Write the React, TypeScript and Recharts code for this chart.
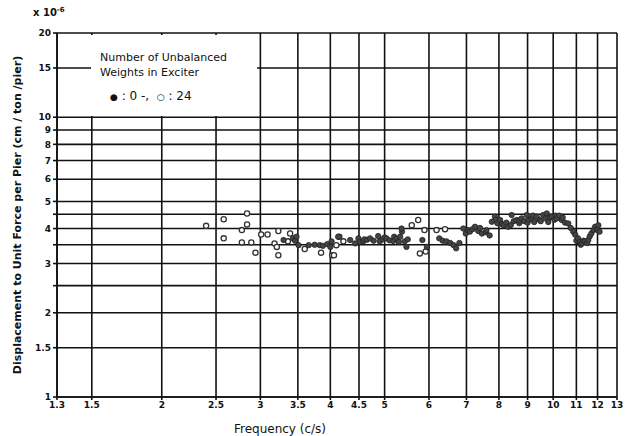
import {
  ScatterChart,
  Scatter,
  XAxis,
  YAxis,
  CartesianGrid
} from "recharts"

// frequency (c/s) / displacement (x10^-6 cm/ton/pier), 24 unbalanced weights (open)
const open24Freq = [2.40, 2.58, 2.58, 2.84, 2.84, 2.78, 2.78, 2.89, 2.94, 3.01, 3.09, 3.23, 3.18, 3.21, 3.23, 3.36, 3.39, 3.60, 3.85, 4.03, 4.06, 4.10, 4.15, 4.22, 5.59, 5.74, 5.78, 5.92, 5.89, 6.19, 6.41]
const open24Disp = [4.09, 4.32, 3.69, 4.53, 4.14, 3.95, 3.57, 3.57, 3.28, 3.81, 3.81, 3.92, 3.54, 3.44, 3.21, 3.60, 3.84, 3.38, 3.28, 3.21, 3.21, 3.49, 3.74, 3.60, 4.11, 4.29, 3.26, 3.31, 3.95, 3.95, 3.98]

// 0 unbalanced weights (filled)
const filled0Freq = [3.30, 3.43, 3.46, 3.48, 3.51, 3.66, 3.75, 3.83, 3.88, 3.95, 4.00, 4.02, 4.13, 4.34, 4.43, 4.49, 4.52, 4.58, 4.60, 4.65, 4.71, 4.78, 4.87, 4.90, 4.96, 5.00, 5.04, 5.10, 5.18, 5.20, 5.25, 5.30, 5.33, 5.37, 5.36, 5.43, 5.47, 5.50, 5.84, 5.95, 6.26, 6.35, 6.45, 6.55, 6.64, 6.71, 6.80, 6.91, 6.98, 7.05, 7.10, 7.18, 7.25, 7.35, 7.40, 7.46, 7.58, 7.60, 7.70, 7.77, 7.87, 7.90, 7.95, 8.04, 8.10, 8.16, 8.25, 8.31, 8.40, 8.43, 8.50, 8.60, 8.70, 8.70, 8.78, 8.88, 8.97, 9.00, 9.05, 9.15, 9.20, 9.25, 9.34, 9.45, 9.50, 9.60, 9.68, 9.74, 9.80, 9.85, 9.94, 10.05, 10.10, 10.15, 10.25, 10.36, 10.40, 10.50, 10.64, 10.75, 10.86, 10.95, 11.00, 11.08, 11.15, 11.20, 11.25, 11.32, 11.40, 11.50, 11.55, 11.62, 11.70, 11.80, 11.88, 11.95, 12.00, 12.04, 12.10]
const filled0Disp = [3.64, 3.69, 3.62, 3.74, 3.49, 3.49, 3.50, 3.49, 3.47, 3.52, 3.44, 3.60, 3.74, 3.64, 3.54, 3.69, 3.58, 3.60, 3.66, 3.65, 3.69, 3.62, 3.76, 3.60, 3.66, 3.72, 3.69, 3.63, 3.61, 3.74, 3.68, 3.58, 3.74, 3.90, 4.00, 3.60, 3.44, 3.66, 3.64, 3.44, 3.69, 3.62, 3.60, 3.55, 3.49, 3.40, 3.55, 4.00, 3.84, 3.95, 3.90, 3.98, 4.06, 3.92, 4.02, 3.84, 3.88, 3.95, 3.78, 4.23, 4.41, 4.30, 4.18, 4.29, 4.15, 4.11, 4.20, 4.06, 4.12, 4.47, 4.25, 4.29, 4.18, 4.28, 4.35, 4.25, 4.47, 4.20, 4.30, 4.35, 4.45, 4.22, 4.41, 4.30, 4.25, 4.47, 4.35, 4.53, 4.22, 4.38, 4.41, 4.30, 4.45, 4.35, 4.45, 4.29, 4.38, 4.20, 4.17, 4.02, 3.90, 3.80, 3.62, 3.69, 3.58, 3.50, 3.54, 3.62, 3.60, 3.55, 3.64, 3.75, 3.84, 3.95, 4.06, 3.98, 3.95, 4.11, 3.90]

const xTicks = [1.3, 1.5, 2, 2.5, 3, 3.5, 4, 4.5, 5, 6, 7, 8, 9, 10, 11, 12, 13]
const yTicks = [1, 1.5, 2, 2.5, 3, 3.5, 4, 4.5, 5, 6, 7, 8, 9, 10, 15, 20]
const yLabelled = [1, 1.5, 2, 3, 4, 5, 6, 7, 8, 9, 10, 15, 20]

const open24 = open24Freq.map((f, i) => ({ f, d: open24Disp[i] }))
const filled0 = filled0Freq.map((f, i) => ({ f, d: filled0Disp[i] }))

const font = "'DejaVu Sans', sans-serif"
const tickStyle = { fontSize: 9, fill: "#111", fontFamily: font, fontWeight: 600 }

const OpenDot = (p: any) => (
  <circle cx={p.cx} cy={p.cy} r={2.6} fill="#fff" stroke="#333" strokeWidth={1.3} />
)
const FilledDot = (p: any) => (
  <circle cx={p.cx} cy={p.cy} r={2.7} fill="#444" stroke="#222" strokeWidth={0.8} />
)

export default function App() {
  return (
    <div style={{ position: "absolute", left: 0, top: 0, width: 625, height: 436, background: "#fff" }}>
      <ScatterChart width={625} height={436} margin={{ top: 33, right: 8, bottom: 0, left: 0 }}>
        <CartesianGrid stroke="#111" strokeWidth={1.6} />
        <XAxis
          type="number"
          dataKey="f"
          scale="log"
          domain={[1.3, 13]}
          ticks={xTicks}
          allowDataOverflow
          height={39}
          tickSize={3}
          tickMargin={2}
          tick={tickStyle}
          stroke="#111"
          strokeWidth={1.6}
          interval={0}
          label={{ value: "Frequency   (c/s)", position: "insideBottom", offset: 3, dx: -57, style: { fontFamily: font, fontSize: 12, fill: "#111" } }}
        />
        <YAxis
          type="number"
          dataKey="d"
          scale="log"
          domain={[1, 20]}
          ticks={yTicks}
          allowDataOverflow
          width={57}
          tickSize={4}
          tickMargin={2}
          tick={tickStyle}
          stroke="#111"
          strokeWidth={1.6}
          interval={0}
          tickFormatter={(v: number) => (yLabelled.includes(v) ? String(v) : "")}
          label={{ value: "Displacement to Unit Force per Pier (cm / ton /pier)", angle: -90, position: "insideLeft", offset: 17, style: { textAnchor: "middle", fontFamily: font, fontSize: 11, fontWeight: 600, fill: "#111" } }}
        />
        <Scatter name="24" data={open24} shape={OpenDot} isAnimationActive={false} />
        <Scatter name="0" data={filled0} shape={FilledDot} isAnimationActive={false} />
      </ScatterChart>
      <div style={{ position: "absolute", left: 33, top: 6, fontFamily: font, fontSize: 10, fontWeight: 600, color: "#111" }}>
        x 10<sup style={{ fontSize: 7 }}>-6</sup>
      </div>
      <div style={{ position: "absolute", left: 91, top: 35, width: 166, height: 81, background: "#fff", fontFamily: font, fontSize: 11, color: "#111", lineHeight: "15px" }}>
        <div style={{ padding: "15px 0 0 9px" }}>
          <div>Number of Unbalanced</div>
          <div>Weights in Exciter</div>
          <div style={{ marginTop: 9, paddingLeft: 10, fontSize: 12 }}>
            <span style={{ fontSize: 9 }}>●</span> : 0 -,&nbsp;&nbsp;<span style={{ fontSize: 9 }}>○</span> : 24
          </div>
        </div>
      </div>
    </div>
  )
}
